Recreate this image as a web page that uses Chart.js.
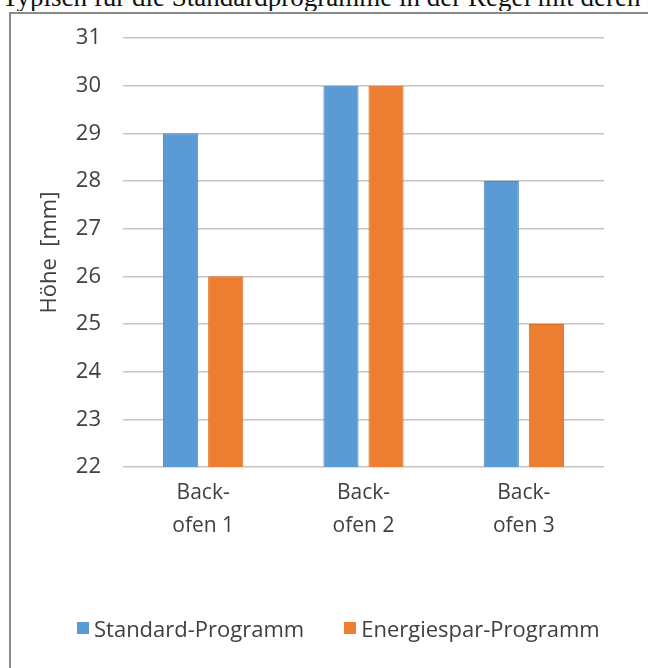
<!DOCTYPE html>
<html>
<head>
<meta charset="utf-8">
<script src="https://cdn.jsdelivr.net/npm/chart.js@4/dist/chart.umd.min.js"></script>
<style>
  html, body { margin: 0; padding: 0; background: #fff; }
  body { width: 648px; height: 668px; position: relative; overflow: hidden; }
  #textline {
    position: absolute; left: 0; top: 0; width: 648px; height: 11px; overflow: hidden;
  }
  #textline span {
    position: absolute; left: 2px; top: -17px; white-space: nowrap; line-height: 28px;
    font-family: "Liberation Serif", "DejaVu Serif", serif; font-size: 27px; color: #111;
  }
  #frame {
    position: absolute; left: 9px; top: 12px; width: 700px; height: 700px;
    border-left: 2px solid #8a8a8a; border-top: 2px solid #8a8a8a;
  }
  #wrap { position: absolute; left: 0; top: 0; width: 648px; height: 668px; }
  #legend {
    position: absolute; left: 77px; top: 614px; height: 28px;
    display: flex; align-items: center; gap: 40px;
    font-family: "Open Sans", "DejaVu Sans", sans-serif; font-size: 22px; color: #404040;
    white-space: nowrap;
  }
  #legend .item { display: flex; align-items: center; gap: 5px; }
  #legend .box { width: 12px; height: 12px; display: inline-block; }
</style>
</head>
<body>
<div id="textline"><span>Typisch für die Standardprogramme in der Regel mit deren</span></div>
<div id="frame"></div>
<div id="wrap"><canvas id="chart" width="648" height="668"></canvas></div>
<div id="legend"></div>
<script>
// Backofen-Vergleich: Höhe des Backguts je Programm
const categories = [['Back-', 'ofen 1'], ['Back-', 'ofen 2'], ['Back-', 'ofen 3']];
const standardProgramm = [29, 30, 28];
const energiesparProgramm = [26, 30, 25];
const seriesNames = ['Standard-Programm', 'Energiespar-Programm'];
const yTitle = 'Höhe  [mm]';

const FONT = '"Open Sans", "DejaVu Sans", sans-serif';
const TEXT = '#404040';
const PLOT_LEFT = 123;
const PLOT_BOTTOM = 467;

// Legend built as HTML from the chart's own legend items
const htmlLegend = {
  id: 'htmlLegend',
  afterUpdate(chart) {
    const host = document.getElementById('legend');
    host.innerHTML = '';
    const items = chart.options.plugins.legend.labels.generateLabels(chart);
    items.forEach(it => {
      const row = document.createElement('span');
      row.className = 'item';
      const box = document.createElement('span');
      box.className = 'box';
      box.style.background = it.fillStyle;
      const txt = document.createElement('span');
      txt.textContent = it.text;
      row.appendChild(box);
      row.appendChild(txt);
      host.appendChild(row);
    });
  }
};

new Chart(document.getElementById('chart'), {
  type: 'bar',
  data: {
    labels: categories,
    datasets: [
      {
        label: seriesNames[0],
        data: standardProgramm,
        backgroundColor: '#5B9BD5',
        borderColor: '#4F86C0',
        borderWidth: 1,
        categoryPercentage: 0.5625,
        barPercentage: 0.78
      },
      {
        label: seriesNames[1],
        data: energiesparProgramm,
        backgroundColor: '#ED7D31',
        borderColor: '#DB6E27',
        borderWidth: 1,
        categoryPercentage: 0.5625,
        barPercentage: 0.78
      }
    ]
  },
  plugins: [htmlLegend],
  options: {
    responsive: false,
    animation: false,
    layout: { padding: { top: 38, right: 44, left: 0, bottom: 0 } },
    plugins: {
      tooltip: { enabled: false },
      legend: { display: false }
    },
    scales: {
      x: {
        grid: { display: false },
        border: { display: false },
        ticks: {
          color: TEXT,
          font: { family: FONT, size: 21, lineHeight: 1.55 },
          padding: 2,
          maxRotation: 0
        },
        afterFit(scale) { scale.height = 668 - PLOT_BOTTOM; }
      },
      y: {
        min: 22,
        max: 31,
        grid: { color: '#C4C4C4', lineWidth: 1.5, drawTicks: false },
        border: { display: false },
        ticks: {
          stepSize: 1,
          color: TEXT,
          font: { family: FONT, size: 22 },
          padding: 22
        },
        title: {
          display: true,
          text: yTitle,
          color: TEXT,
          font: { family: FONT, size: 22 },
          padding: { top: 37, bottom: 0 }
        },
        afterFit(scale) { scale.width = PLOT_LEFT; }
      }
    }
  }
});
</script>
</body>
</html>
